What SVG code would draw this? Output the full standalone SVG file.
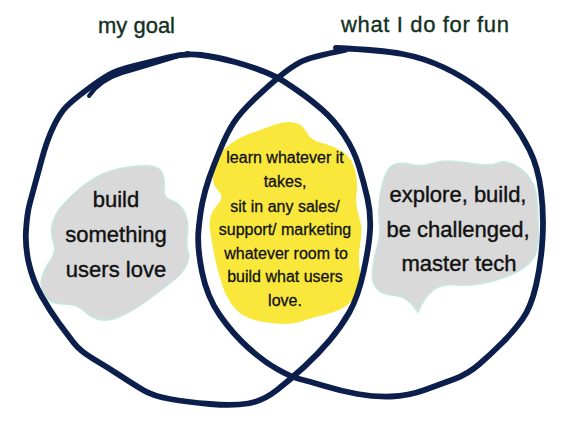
<svg xmlns="http://www.w3.org/2000/svg" width="582" height="428" viewBox="0 0 582 428">
<style>
.title{font-family:"Liberation Sans",Arial,sans-serif;font-size:22px;fill:#13301f;stroke:#13301f;stroke-width:0.35px;text-anchor:middle}
.big{font-family:"Liberation Sans",Arial,sans-serif;font-size:22px;fill:#111;stroke:#111;stroke-width:0.4px;text-anchor:middle}
.small{font-family:"Liberation Sans",Arial,sans-serif;font-size:16px;fill:#111;stroke:#111;stroke-width:0.3px;text-anchor:middle}
.gray{fill:#d9d9d9;stroke:#c6e9df;stroke-width:1.5}
.yellow{fill:#f9e83b}
.ring{fill:none;stroke:#0c1e4b;stroke-width:5.8;stroke-linecap:round;stroke-linejoin:round}
</style>
<rect width="582" height="428" fill="#ffffff"/>
<g id="title-goal"><text class="title" x="136.5" y="33">my goal</text></g>
<g id="title-fun"><text class="title" x="425" y="32" textLength="168">what I do for fun</text></g>
<g id="node-goal">
<path class="gray" d="M 77,191 Q 87,182 98.5,176 Q 110,170 125,167.5 Q 140,165 150,166 Q 160,167 162.5,173.5 Q 165,180 164,189 Q 163,198 171.5,200.5 Q 180,203 184.5,212.5 Q 189,222 187.5,233.5 Q 186,245 188,251.5 Q 190,258 186,266 Q 182,274 171,282.5 Q 160,291 146.5,301 Q 133,311 120,316.5 Q 107,322 98.5,319.5 Q 90,317 83.5,310.5 Q 77,304 63.5,304 Q 50,304 45,295.5 Q 40,287 41.5,279 Q 43,271 50,261 Q 57,251 53.5,242.5 Q 50,234 52.5,224 Q 55,214 61,207 Q 67,200 77,191 Z"/>
<text class="big" x="116" y="207">build</text>
<text class="big" x="116" y="242">something</text>
<text class="big" x="116" y="277">users love</text>
</g>
<g id="node-overlap">
<path class="yellow" d="M 218,156.5 Q 222,150 231,143.5 Q 240,137 251.5,133 Q 263,129 274,125 Q 285,121 294,122.5 Q 303,124 306.5,132 Q 310,140 322,143 Q 334,146 343,152 Q 352,158 355,170 Q 358,182 356.5,193.5 Q 355,205 359,216.5 Q 363,228 360.5,241.5 Q 358,255 359.5,267.5 Q 361,280 358.5,289 Q 356,298 348,304.5 Q 340,311 325.5,314.5 Q 311,318 301,321.5 Q 291,325 275.5,323.5 Q 260,322 250,318.5 Q 240,315 233,306 Q 226,297 222,284.5 Q 218,272 215,258.5 Q 212,245 210,230 Q 208,215 216.5,206 Q 225,197 218.5,191 Q 212,185 213,174 Q 214,163 218,156.5 Z"/>
<text class="small" x="285" y="163">learn whatever it</text>
<text class="small" x="285" y="187">takes,</text>
<text class="small" x="285" y="212">sit in any sales/</text>
<text class="small" x="285" y="235">support/ marketing</text>
<text class="small" x="286" y="259">whatever room to</text>
<text class="small" x="285" y="282">build what users</text>
<text class="small" x="285" y="306">love.</text>
</g>
<g id="node-fun">
<path class="gray" d="M 384.5,177 Q 388,167 394.5,164.5 Q 401,162 411,164.5 Q 421,167 432.5,163.5 Q 444,160 456,161.5 Q 468,163 479.5,164.5 Q 491,166 498,163 Q 505,160 514.5,165 Q 524,170 530,178.5 Q 536,187 537,200.5 Q 538,214 538.5,230.5 Q 539,247 535,255.5 Q 531,264 519.5,270.5 Q 508,277 491,281.5 Q 474,286 457.5,285 Q 441,284 433.5,290 Q 426,296 422,304 L 418,312 L 414,307 Q 410,302 405.5,299 Q 401,296 391,295 Q 381,294 376,287.5 Q 371,281 372.5,269 Q 374,257 377.5,245.5 Q 381,234 379.5,224 Q 378,214 379.5,200.5 Q 381,187 384.5,177 Z"/>
<text class="big" x="458" y="202">explore, build,</text>
<text class="big" x="458" y="237">be challenged,</text>
<text class="big" x="459" y="271">master tech</text>
</g>
<g id="connectors">
<g id="circle-goal">
<path class="ring" d="M 66.5,106.5 Q 73,100 86.5,90 Q 100,80 108.5,75 Q 117,70 133.5,66 Q 150,62 167.5,57.5 Q 185,53 201,55 Q 217,57 235,62 Q 253,67 265,72 Q 277,77 284,81.5 Q 291,86 301,93 Q 311,100 322.5,110 Q 334,120 344,135 Q 354,150 359,166.5 Q 364,183 367.5,198.5 Q 371,214 370,230.5 Q 369,247 363.5,272 Q 358,297 349.5,312 Q 341,327 329.5,340.5 Q 318,354 304.5,366.5 Q 291,379 277,390 Q 263,401 248,403.5 Q 233,406 210,404 Q 187,402 170,399 Q 153,396 143,390 Q 133,384 120,375.5 Q 107,367 93.5,359 Q 80,351 73.5,342.5 Q 67,334 58.5,322.5 Q 50,311 41.5,296 Q 33,281 29,264 Q 25,247 26,230.5 Q 27,214 29.5,204.5 Q 32,195 34.5,186 Q 37,177 42,158.5 Q 47,140 53.5,126.5 Q 60,113 66.5,106.5 Z"/>
<path class="ring" style="stroke-width:4" d="M 89,96 Q 100,80 122,73 Q 150,65 188,53"/>
</g>
<g id="circle-fun">
<path class="ring" d="M 336,48 Q 381,50 402.5,54 Q 424,58 444,67.5 Q 464,77 481,90 Q 498,103 509.5,118 Q 521,133 529.5,150 Q 538,167 541,190.5 Q 544,214 542.5,239 Q 541,264 536,285.5 Q 531,307 522.5,319 Q 514,331 502.5,342.5 Q 491,354 479.5,364 Q 468,374 454.5,379 Q 441,384 424.5,390 Q 408,396 391,396.5 Q 374,397 357.5,394 Q 341,391 324.5,386 Q 308,381 299.5,379 Q 291,377 277,369 Q 263,361 248,347.5 Q 233,334 220,315.5 Q 207,297 202,272 Q 197,247 198.5,230.5 Q 200,214 202.5,202 Q 205,190 209,178.5 Q 213,167 220,150 Q 227,133 233.5,123 Q 240,113 253.5,100 Q 267,87 279,77 Q 291,67 300.5,62 Q 310,57 345,50"/>
</g>
</g>
</svg>
